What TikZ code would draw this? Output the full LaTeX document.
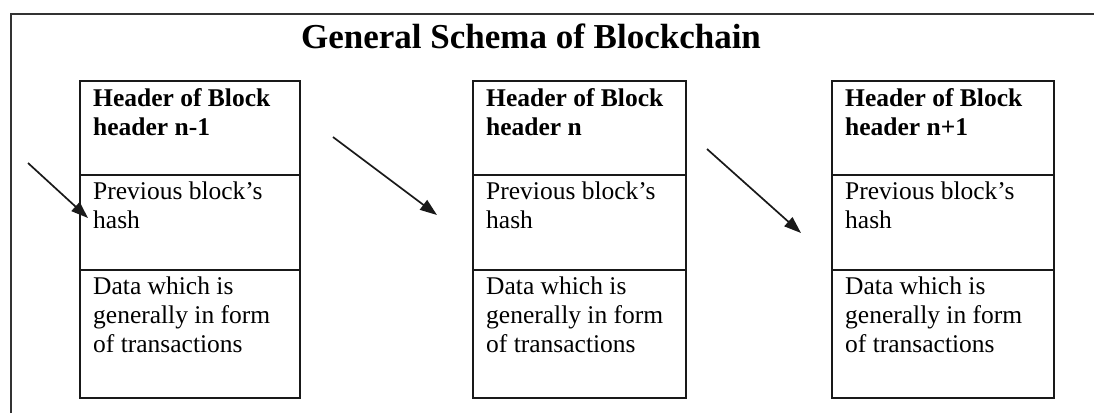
\documentclass[tikz,border=0pt]{standalone}
\usepackage{fontspec}
\setmainfont{Liberation Serif}
\usetikzlibrary{arrows.meta}
\begin{document}
\begin{tikzpicture}[x=1pt,y=-1pt,
  sect/.style={draw=black!90, line width=1.6pt, rectangle, inner sep=0pt, anchor=north west, minimum width=#1},
  txt/.style={anchor=north west, inner sep=0pt, align=left, font=\fontsize{25.5}{29}\selectfont},
  hdr/.style={txt, font=\fontsize{25.5}{29}\selectfont\bfseries},
  link/.style={line width=1.7pt, draw=black!90, -{Triangle[length=17pt,width=12pt]}},
  frameline/.style={line width=1.6pt, draw=black!80},
]
\useasboundingbox (0,0) rectangle (1094,413);
\draw[frameline] (11,413) -- (11,14) -- (1094,14);
\node[font=\fontsize{35}{40}\selectfont\bfseries, anchor=base, inner sep=0pt] (title) at (531,48) {General Schema of Blockchain};

% block 1
\node[sect=220pt, minimum height=94pt] (b1h) at (79,80) {};
\node[sect=220pt, minimum height=95pt] (b1p) at (79,174) {};
\node[sect=220pt, minimum height=128pt] (b1d) at (79,269) {};
% block 2
\node[sect=213pt, minimum height=94pt] (b2h) at (472,80) {};
\node[sect=213pt, minimum height=95pt] (b2p) at (472,174) {};
\node[sect=213pt, minimum height=128pt] (b2d) at (472,269) {};
% block 3
\node[sect=222pt, minimum height=94pt] (b3h) at (831,80) {};
\node[sect=222pt, minimum height=95pt] (b3p) at (831,174) {};
\node[sect=222pt, minimum height=128pt] (b3d) at (831,269) {};

\node[hdr] (t1h) at ([shift={(14,8)}]b1h.north west) {Header of Block\\header n-1};
\node[txt] (t1p) at ([shift={(14,8)}]b1p.north west) {Previous block’s\\hash};
\node[txt] (t1d) at ([shift={(14,8)}]b1d.north west) {Data which is\\generally in form\\of transactions};

\node[hdr] (t2h) at ([shift={(14,8)}]b2h.north west) {Header of Block\\header n};
\node[txt] (t2p) at ([shift={(14,8)}]b2p.north west) {Previous block’s\\hash};
\node[txt] (t2d) at ([shift={(14,8)}]b2d.north west) {Data which is\\generally in form\\of transactions};

\node[hdr] (t3h) at ([shift={(14,8)}]b3h.north west) {Header of Block\\header n+1};
\node[txt] (t3p) at ([shift={(14,8)}]b3p.north west) {Previous block’s\\hash};
\node[txt] (t3d) at ([shift={(14,8)}]b3d.north west) {Data which is\\generally in form\\of transactions};

\coordinate (a1s) at (28,163);
\coordinate (a1e) at (88,218);
\coordinate (a2s) at (333,137);
\coordinate (a2e) at (437,215);
\coordinate (a3s) at (707,149);
\coordinate (a3e) at (801,233);
\draw[link] (a1s) -- (a1e);
\draw[link] (a2s) -- (a2e);
\draw[link] (a3s) -- (a3e);
\end{tikzpicture}
\end{document}
